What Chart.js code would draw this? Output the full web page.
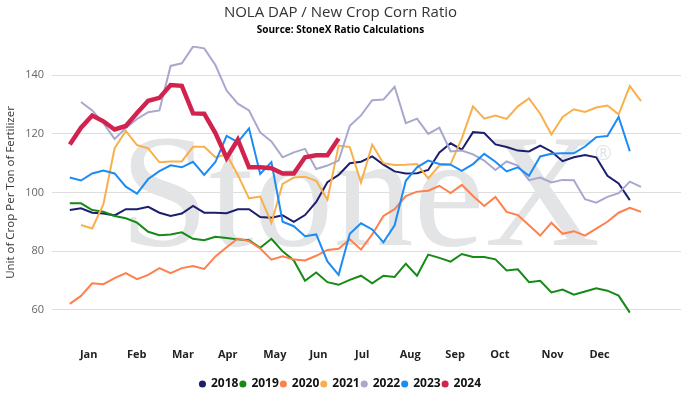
<!DOCTYPE html>
<html>
<head>
<meta charset="utf-8">
<script src="https://cdn.jsdelivr.net/npm/chart.js@4.4.1/dist/chart.umd.min.js"></script>
<style>
  html, body { margin: 0; padding: 0; background: #fff; }
  #wrap { width: 696px; height: 407px; position: relative; }
</style>
</head>
<body>
<div id="wrap"><canvas id="ratio"></canvas></div>
<script>
// weekly ratio values (null = no data that week)
const weeks = Array.from({ length: 52 }, (_, i) => i);

const y2018 = [94.0, 94.6, 93.1, 92.8, 92.2, 94.3, 94.3, 95.1, 93.1, 92.0, 92.8, 95.4, 93.1, 93.1, 92.9, 94.3, 94.3, 91.6, 91.4, 92.2, 90.0, 92.3, 96.8, 103.5, 106.0, 110.0, 110.5, 112.3, 109.5, 107.2, 106.5, 106.6, 107.7, 113.7, 116.8, 114.6, 120.6, 120.3, 116.4, 115.5, 114.3, 114.0, 116.0, 114.0, 110.7, 112.0, 112.8, 112.0, 105.7, 103.1, 97.4];
const y2019 = [96.3, 96.3, 94.0, 93.4, 92.0, 91.2, 89.7, 86.6, 85.4, 85.7, 86.4, 84.2, 83.7, 84.9, 84.5, 84.0, 83.7, 81.1, 84.2, 79.9, 76.8, 69.9, 72.7, 69.4, 68.5, 70.2, 71.6, 69.0, 71.6, 71.2, 75.7, 71.6, 78.8, 77.7, 76.4, 79.0, 78.0, 78.0, 77.2, 73.4, 73.8, 69.4, 69.9, 65.9, 66.9, 65.1, 66.2, 67.3, 66.5, 64.8, 59.0];
const y2020 = [62.0, 64.7, 69.0, 68.7, 70.8, 72.5, 70.4, 71.9, 74.2, 72.5, 74.2, 74.9, 73.9, 78.2, 81.3, 84.3, 83.4, 80.9, 77.1, 78.2, 77.1, 76.8, 78.4, 80.4, 80.8, 84.0, 80.5, 85.7, 92.0, 94.3, 98.8, 100.3, 100.6, 102.3, 99.8, 102.6, 98.8, 95.4, 98.5, 93.4, 92.3, 88.8, 85.3, 89.7, 85.9, 86.8, 85.3, 87.7, 90.0, 93.1, 94.8, 93.4];
const y2021 = [null, 88.9, 87.7, 96.0, 115.1, 121.0, 116.2, 115.1, 110.3, 110.6, 110.6, 115.6, 115.6, 112.0, 113.0, 106.0, 98.0, 98.6, 89.7, 102.9, 105.1, 105.4, 104.0, 97.5, 116.0, 115.5, 103.4, 116.3, 110.0, 109.4, 109.5, 109.7, 104.8, 109.2, 109.7, 118.5, 129.4, 125.2, 126.3, 125.1, 129.4, 132.1, 126.9, 119.8, 125.8, 128.4, 127.5, 129.0, 129.7, 126.7, 136.3, 131.2];
const y2022 = [null, 130.9, 128.0, 123.7, 118.3, 122.0, 125.1, 127.4, 128.0, 143.2, 144.1, 149.8, 149.2, 143.5, 134.8, 130.3, 128.0, 120.5, 117.4, 112.0, 113.7, 114.9, 108.0, 109.2, 110.9, 122.8, 126.3, 131.5, 131.7, 136.1, 123.7, 125.2, 120.0, 122.1, 114.0, 114.3, 113.0, 110.9, 107.7, 110.6, 109.2, 104.2, 105.1, 103.4, 104.3, 104.2, 97.7, 96.5, 98.5, 99.8, 103.7, 101.9];
const y2023 = [105.1, 104.1, 106.5, 107.5, 106.5, 102.0, 99.6, 104.6, 107.3, 109.3, 108.6, 110.5, 106.0, 110.4, 119.3, 117.2, 121.9, 106.3, 110.4, 90.0, 88.5, 85.1, 85.7, 76.5, 71.9, 85.9, 89.5, 87.4, 83.0, 88.8, 104.0, 108.6, 110.9, 109.7, 109.5, 107.4, 109.7, 113.2, 110.5, 107.2, 108.6, 105.7, 112.3, 113.2, 113.4, 113.4, 115.7, 118.9, 119.3, 125.8, 114.1];
const y2024 = [116.4, 122.1, 126.3, 124.3, 121.5, 122.7, 127.1, 131.3, 132.3, 136.7, 136.4, 127.0, 126.9, 120.3, 111.8, 118.0, 108.6, 108.6, 108.3, 106.5, 106.5, 112.0, 112.7, 112.7, 118.4];

const years = ['2018', '2019', '2020', '2021', '2022', '2023', '2024'];
const yearValues = [y2018, y2019, y2020, y2021, y2022, y2023, y2024];
const colors = ['#1b1f6e', '#158a15', '#ff7f4d', '#f9b04c', '#a8a8cf', '#1c8cf5', '#d2234f'];

// month labels and where they sit, in weeks
const monthLabels = ['Jan', 'Feb', 'Mar', 'Apr', 'May', 'Jun', 'Jul', 'Aug', 'Sep', 'Oct', 'Nov', 'Dec'];
const monthPos = [1.69, 5.97, 10.1, 14.1, 18.3, 22.2, 26.1, 30.4, 34.4, 38.4, 43.1, 47.3];
const yTicks = [60, 80, 100, 120, 140];

Chart.defaults.font.family = "'Open Sans', sans-serif";
Chart.defaults.animation = false;

const watermark = {
  id: 'watermark',
  beforeDatasetsDraw(chart) {
    const ctx = chart.ctx;
    ctx.save();
    ctx.fillStyle = '#e3e4e6';
    ctx.textBaseline = 'alphabetic';
    ctx.font = "160px 'Liberation Serif'";
    ctx.fillText('StoneX', 120, 245);
    ctx.font = "20px 'Open Sans'";
    ctx.fillText('\u00AE', 595, 160);
    ctx.restore();
  }
};

function buildDatasets() {
  return years.map((yr, i) => ({
    label: yr,
    data: yearValues[i],
    borderColor: colors[i],
    backgroundColor: colors[i],
    borderWidth: yr === '2024' ? 4.5 : 2,
    pointRadius: 0,
    tension: 0,
    spanGaps: false,
    order: years.length - i,
  }));
}

function legendItems(chart) {
  const items = Chart.defaults.plugins.legend.labels.generateLabels(chart);
  items.forEach((it) => { it.lineWidth = 0; });
  return items.sort((a, b) => a.datasetIndex - b.datasetIndex);
}

new Chart(document.getElementById('ratio'), {
  type: 'line',
  data: {
    labels: weeks,
    datasets: buildDatasets(),
  },
  options: {
    responsive: true,
    maintainAspectRatio: false,
    layout: { padding: { left: 0, right: 15, top: 0, bottom: 7 } },
    plugins: {
      title: {
        display: true,
        text: 'NOLA DAP / New Crop Corn Ratio',
        color: '#333',
        font: { size: 15, weight: 'normal' },
        padding: { top: 4, bottom: 2 },
      },
      subtitle: {
        display: true,
        text: 'Source: StoneX Ratio Calculations',
        color: '#000',
        font: { size: 10, weight: 'bold' },
        padding: { top: 0, bottom: 10 },
      },
      legend: {
        position: 'bottom',
        labels: {
          usePointStyle: true,
          pointStyle: 'circle',
          boxWidth: 5,
          boxHeight: 5,
          padding: 2,
          color: '#111',
          font: { size: 12, weight: 'bold' },
          generateLabels: legendItems,
        },
      },
      tooltip: { enabled: false },
    },
    scales: {
      x: {
        type: 'linear',
        min: -1.59,
        max: 54.57,
        grid: { display: false, drawTicks: false },
        border: { display: false },
        afterBuildTicks: (axis) => {
          axis.ticks = monthPos.map((v) => ({ value: v }));
        },
        afterFit: (axis) => { axis.height = 37; },
        ticks: {
          autoSkip: false,
          maxRotation: 0,
          padding: 9,
          color: '#222',
          font: { size: 11, weight: 'bold' },
          callback: (v, i) => monthLabels[i],
        },
      },
      y: {
        min: 50,
        max: 150,
        afterBuildTicks: (axis) => {
          axis.ticks = yTicks.map((v) => ({ value: v }));
        },
        afterFit: (axis) => { axis.width = 52; },
        grid: { color: '#dedede', drawTicks: false },
        border: { display: false },
        ticks: {
          padding: 8,
          color: '#666',
          font: { size: 11 },
        },
        title: {
          display: true,
          text: 'Unit of Crop Per Ton of Fertilizer',
          color: '#333',
          font: { size: 11.5 },
          padding: { top: 4, bottom: 2 },
        },
      },
    },
  },
  plugins: [watermark],
});
</script>
</body>
</html>
